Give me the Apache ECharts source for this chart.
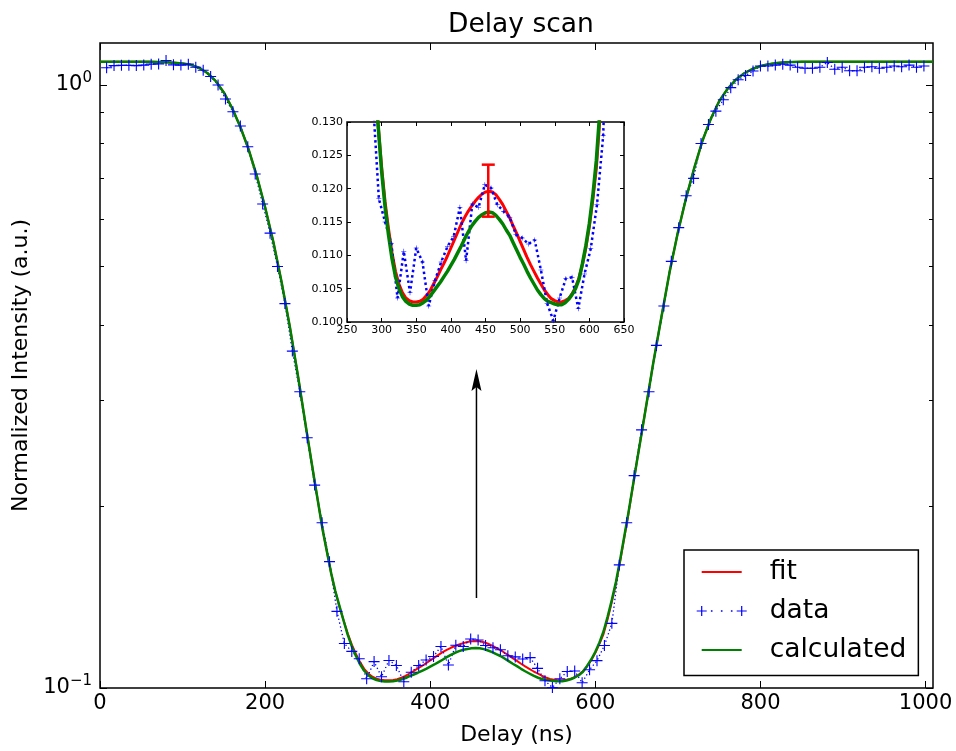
<!DOCTYPE html>
<html>
<head>
<meta charset="utf-8">
<script src="https://cdn.jsdelivr.net/npm/echarts@6/dist/echarts.min.js"></script>
<style>
  html, body { margin: 0; padding: 0; background: #fff; }
  #chart { width: 956px; height: 751px; }
</style>
</head>
<body>
<div id="chart"></div>
<script>
// Delay scan: normalized intensity versus delay on a log scale,
// with a linear zoom of the double-dip region in an inset.

// measured points (ns, a.u.)
const dataDelay = [8,17,26,35,44,53,62,71,80,89,98,107,116,125,134,143,152,161,170,179,188,197,206,215,224,233,242,251,260,269,278,287,296,305,314,323,332,341,350,359,368,377,386,395,404,413,422,431,440,449,458,467,476,485,494,503,512,521,530,539,548,557,566,575,584,593,602,611,620,629,638,647,656,665,674,683,692,701,710,719,728,737,746,755,764,773,782,791,800,809,818,827,836,845,854,863,872,881,890,899,908,917,926,935,944,953,962,971,980,989,998];
const dataIntensity = [1.068,1.077,1.078,1.078,1.077,1.079,1.083,1.084,1.098,1.080,1.079,1.083,1.070,1.058,1.033,1.000,0.948,0.903,0.855,0.790,0.712,0.635,0.568,0.500,0.434,0.362,0.310,0.260,0.217,0.188,0.162,0.134,0.1185,0.1150,0.1118,0.1036,0.1106,0.1044,0.1111,0.1090,0.1024,0.1062,0.1090,0.1113,0.1128,0.1172,0.1092,0.1177,0.1172,0.1206,0.1201,0.1176,0.1166,0.1157,0.1131,0.1126,0.1117,0.1123,0.1078,0.1028,0.1002,0.1036,0.1065,0.1067,0.1020,0.1072,0.1110,0.1176,0.1280,0.160,0.188,0.225,0.268,0.310,0.370,0.430,0.510,0.580,0.655,0.700,0.800,0.860,0.905,0.945,0.990,1.020,1.037,1.055,1.075,1.075,1.079,1.083,1.079,1.070,1.066,1.066,1.070,1.090,1.062,1.070,1.056,1.056,1.070,1.072,1.066,1.070,1.075,1.072,1.079,1.070,1.075];

// model curves (ns, a.u.)
const modelDelay = [0,10,20,30,40,50,60,70,80,90,100,110,120,130,140,150,160,170,180,190,200,210,220,230,240,250,260,270,280,
  285,290,295,300,305,310,315,320,325,330,335,340,345,350,355,360,365,370,375,380,385,390,395,400,405,410,415,420,425,430,435,440,445,450,455,460,465,470,475,480,485,490,495,500,505,510,515,520,525,530,535,540,545,550,555,560,565,570,575,580,585,590,595,600,605,610,615,620,625,
  630,640,650,660,670,680,690,700,710,720,730,740,750,760,770,780,790,800,810,820,830,840,850,860,870,880,890,900,910,920,930,940,950,960,970,980,990,1000,1009];
const fitIntensity = [1.093,1.093,1.093,1.093,1.093,1.093,1.093,1.092,1.091,1.089,1.086,1.080,1.068,1.047,1.016,0.972,0.916,0.852,0.782,0.706,0.627,0.549,0.471,0.397,0.328,0.268,0.220,0.182,0.155,
  0.1445,0.1365,0.1295,0.1232,0.1180,0.1139,0.1104,0.1076,0.1057,0.1044,0.1036,0.1032,0.1030,0.1030,0.1031,0.1034,0.1040,0.1047,0.1057,0.1067,0.1078,0.1088,0.1099,0.1111,0.1123,0.1135,0.1147,0.1157,0.1166,0.1174,0.1181,0.1187,0.1192,0.1195,0.1196,0.1195,0.1191,0.1184,0.1176,0.1166,0.1156,0.1144,0.1133,0.1121,0.1109,0.1097,0.1086,0.1076,0.1066,0.1057,0.1048,0.1041,0.1035,0.1032,0.1030,0.1030,0.1032,0.1035,0.1042,0.1052,0.1066,0.1086,0.1112,0.1144,0.1184,0.1230,0.1303,0.139,0.149,
  0.162,0.194,0.236,0.285,0.345,0.412,0.490,0.570,0.650,0.730,0.810,0.880,0.940,0.985,1.020,1.045,1.063,1.075,1.083,1.088,1.091,1.092,1.093,1.093,1.093,1.093,1.093,1.093,1.093,1.093,1.093,1.093,1.093,1.093,1.093,1.093,1.093,1.093,1.093];
const calcIntensity = [1.093,1.093,1.093,1.093,1.093,1.093,1.093,1.092,1.091,1.089,1.086,1.080,1.068,1.047,1.016,0.972,0.916,0.852,0.782,0.706,0.627,0.549,0.471,0.397,0.328,0.268,0.220,0.182,0.155,
  0.1448,0.1368,0.1294,0.1226,0.1172,0.1130,0.1095,0.1068,0.1050,0.1038,0.1031,0.1027,0.1025,0.1025,0.1026,0.1029,0.1033,0.1039,0.1046,0.1053,0.1060,0.1068,0.1076,0.1085,0.1094,0.1104,0.1114,0.1125,0.1135,0.1144,0.1151,0.1157,0.1161,0.1164,0.1165,0.1164,0.1160,0.1154,0.1147,0.1138,0.1130,0.1119,0.1108,0.1097,0.1087,0.1076,0.1066,0.1057,0.1048,0.1041,0.1035,0.1031,0.1029,0.1027,0.1026,0.1026,0.1029,0.1034,0.1041,0.1050,0.1064,0.1088,0.1115,0.1148,0.1190,0.1242,0.1315,0.140,0.150,
  0.163,0.195,0.236,0.285,0.345,0.412,0.490,0.570,0.650,0.730,0.810,0.880,0.940,0.985,1.020,1.045,1.063,1.075,1.083,1.088,1.091,1.092,1.093,1.093,1.093,1.093,1.093,1.093,1.093,1.093,1.093,1.093,1.093,1.093,1.093,1.093,1.093,1.093,1.093];

// uncertainty of the fitted peak (shown in the inset)
const errDelay = [454];
const errLow = [0.1158];
const errHigh = [0.1236];

// annotation arrow pointing from the dip up to the inset
const arrowDelay = [456];
const arrowFrom = [0.141];
const arrowTo = [0.338];

// tick positions
const xTicks = [0, 200, 400, 600, 800, 1000];
const yMajor = [0.1, 1];
const yMinor = [0.2, 0.3, 0.4, 0.5, 0.6, 0.7, 0.8, 0.9];

const FONT = 'DejaVu Sans';
const pair = (xs, ys) => xs.map((x, i) => [x, ys[i]]);
const plusSymbol = 'path://M0,4.5h10v1h-10zM4.5,0h1v10h-1z';

// legend glyphs (box 50 x 12)
const lineIcon = 'path://M0,0M50,12M5,5.1h40v1.8h-40z';
const dataIcon = 'path://M0,0M50,12M0,5.4h10v1.2h-10zM4.4,1h1.2v10h-1.2zM40,5.4h10v1.2h-10zM44.4,1h1.2v10h-1.2z' +
  'M14.2,5.2h1.6v1.6h-1.6zM24.2,5.2h1.6v1.6h-1.6zM34.2,5.2h1.6v1.6h-1.6z';

const tickStyle = { color: '#000', width: 1 };

function mainX(position, withLabels) {
  return {
    gridIndex: 0, type: 'value', min: 0, max: 1009, position,
    axisLine: { show: false }, splitLine: { show: false },
    axisTick: { inside: true, length: 7, customValues: xTicks, lineStyle: tickStyle },
    axisLabel: withLabels
      ? { customValues: xTicks, margin: 5, fontSize: 21, color: '#000', fontFamily: FONT, formatter: v => String(v) }
      : { show: false }
  };
}
function mainY(position, ticks, len, withLabels) {
  return {
    gridIndex: 0, type: 'log', logBase: 10, min: 0.1, max: 1.174, position,
    axisLine: { show: false }, splitLine: { show: false },
    axisTick: { inside: true, length: len, customValues: ticks, lineStyle: tickStyle },
    axisLabel: withLabels ? {
      customValues: ticks, margin: 8, color: '#000',
      formatter: v => {
        const p = Math.round(Math.log10(v));
        return '{b|10}{s|' + (p < 0 ? '\u2212' + (-p) : p) + '}';
      },
      rich: {
        b: { fontSize: 21, fontFamily: FONT, color: '#000' },
        s: { fontSize: 15, fontFamily: FONT, color: '#000', padding: [0, 0, 14, 0] }
      }
    } : { show: false }
  };
}
function insetX(position, withLabels) {
  return {
    gridIndex: 1, type: 'value', min: 250, max: 650, interval: 50, position,
    axisLine: { show: false }, splitLine: { show: false },
    axisTick: { inside: true, length: 4, lineStyle: tickStyle },
    axisLabel: withLabels ? { margin: 3, fontSize: 11, color: '#000', fontFamily: FONT } : { show: false }
  };
}
function insetY(position, withLabels) {
  return {
    gridIndex: 1, type: 'value', min: 0.1, max: 0.13, interval: 0.005, position,
    axisLine: { show: false }, splitLine: { show: false },
    axisTick: { inside: true, length: 4, lineStyle: tickStyle },
    axisLabel: withLabels ? {
      margin: 4, fontSize: 11, color: '#000', fontFamily: FONT,
      formatter: v => v.toFixed(3)
    } : { show: false }
  };
}

const xMain = mainX('bottom', true);
xMain.name = 'Delay (ns)';
xMain.nameLocation = 'middle';
xMain.nameGap = 36;
xMain.nameTextStyle = { fontSize: 22, fontFamily: FONT, color: '#000' };

const yMain = mainY('left', yMajor, 7, true);
yMain.name = 'Normalized Intensity (a.u.)';
yMain.nameLocation = 'middle';
yMain.nameGap = 65;
yMain.nameTextStyle = { fontSize: 22, fontFamily: FONT, color: '#000' };

const option = {
  animation: false,
  backgroundColor: '#fff',
  title: {
    text: 'Delay scan', left: 443, top: 7,
    textStyle: { fontSize: 26.5, fontWeight: 'normal', fontFamily: FONT, color: '#000' }
  },
  grid: [
    { left: 100, top: 43, width: 833, height: 645, show: true, borderColor: '#000', borderWidth: 1.5, backgroundColor: 'transparent' },
    { left: 347, top: 122, width: 277, height: 200, show: true, borderColor: '#000', borderWidth: 1.5, backgroundColor: '#fff' }
  ],
  xAxis: [xMain, mainX('top', false), insetX('bottom', true), insetX('top', false)],
  yAxis: [
    yMain,
    mainY('left', yMinor, 4, false),
    mainY('right', yMajor, 7, false),
    mainY('right', yMinor, 4, false),
    insetY('left', true),
    insetY('right', false)
  ],
  legend: {
    orient: 'vertical', left: 684, top: 550, padding: [8.5, 12, 12, 12.7],
    itemWidth: 50, itemHeight: 12, itemGap: 12,
    borderColor: '#000', borderWidth: 1.5, borderRadius: 0, backgroundColor: '#fff',
    textStyle: { fontSize: 26.5, fontFamily: FONT, color: '#000', padding: [0, 0, 0, 18] },
    itemStyle: { borderWidth: 0 },
    selectedMode: false, z: 10,
    data: [
      { name: 'fit', icon: lineIcon, itemStyle: { color: '#ff0000', borderWidth: 0 } },
      { name: 'data', icon: dataIcon, itemStyle: { color: '#0000ff', borderWidth: 0 } },
      { name: 'calculated', icon: lineIcon, itemStyle: { color: '#008000', borderWidth: 0 } }
    ]
  },
  series: [
    // main panel
    {
      name: 'fit', type: 'line', xAxisIndex: 0, yAxisIndex: 0, z: 3,
      data: pair(modelDelay, fitIntensity), showSymbol: false,
      lineStyle: { color: '#ff0000', width: 2 }, itemStyle: { color: '#ff0000' }
    },
    {
      name: 'data', type: 'line', xAxisIndex: 0, yAxisIndex: 0, z: 3,
      data: pair(dataDelay, dataIntensity),
      symbol: plusSymbol, symbolSize: 11, showAllSymbol: true,
      lineStyle: { color: '#0000ff', width: 1.3, type: [1.3, 2.6] },
      itemStyle: { color: '#0000ff', borderWidth: 0 }
    },
    {
      name: 'calculated', type: 'line', xAxisIndex: 0, yAxisIndex: 0, z: 3,
      data: pair(modelDelay, calcIntensity), showSymbol: false,
      lineStyle: { color: '#008000', width: 2.5 }, itemStyle: { color: '#008000' }
    },
    // inset panel
    {
      name: 'fit', type: 'line', xAxisIndex: 2, yAxisIndex: 4, z: 3,
      data: pair(modelDelay, fitIntensity), showSymbol: false,
      lineStyle: { color: '#ff0000', width: 3 }, itemStyle: { color: '#ff0000' }
    },
    {
      name: 'data', type: 'line', xAxisIndex: 2, yAxisIndex: 4, z: 3,
      data: pair(dataDelay, dataIntensity),
      symbol: plusSymbol, symbolSize: 5, showAllSymbol: true,
      lineStyle: { color: '#0000ff', width: 2.5, type: [2.5, 3] },
      itemStyle: { color: '#0000ff', borderWidth: 0 }
    },
    {
      name: 'calculated', type: 'line', xAxisIndex: 2, yAxisIndex: 4, z: 3,
      data: pair(modelDelay, calcIntensity), showSymbol: false,
      lineStyle: { color: '#008000', width: 3.5 }, itemStyle: { color: '#008000' }
    },
    // error bar on the fitted peak
    {
      type: 'custom', xAxisIndex: 2, yAxisIndex: 4, z: 4, silent: true,
      data: errDelay.map((x, i) => [x, errLow[i], errHigh[i]]),
      encode: { x: 0, y: [1, 2] },
      renderItem: (params, api) => {
        const lo = api.coord([api.value(0), api.value(1)]);
        const hi = api.coord([api.value(0), api.value(2)]);
        const cap = 6.5;
        const st = { stroke: '#ff0000', lineWidth: 2.5 };
        return {
          type: 'group', children: [
            { type: 'line', shape: { x1: lo[0], y1: lo[1], x2: hi[0], y2: hi[1] }, style: st },
            { type: 'line', shape: { x1: lo[0] - cap, y1: lo[1], x2: lo[0] + cap, y2: lo[1] }, style: st },
            { type: 'line', shape: { x1: hi[0] - cap, y1: hi[1], x2: hi[0] + cap, y2: hi[1] }, style: st }
          ]
        };
      }
    },
    // arrow
    {
      type: 'custom', xAxisIndex: 0, yAxisIndex: 0, z: 4, silent: true,
      data: arrowDelay.map((x, i) => [x, arrowFrom[i], arrowTo[i]]),
      encode: { x: 0, y: [1, 2] },
      renderItem: (params, api) => {
        const a = api.coord([api.value(0), api.value(1)]);
        const b = api.coord([api.value(0), api.value(2)]);
        const headLen = 22, headW = 5, notch = 4;
        return {
          type: 'group', children: [
            { type: 'line', shape: { x1: a[0], y1: a[1], x2: b[0], y2: b[1] + headLen - notch }, style: { stroke: '#000', lineWidth: 1.5 } },
            { type: 'polygon', shape: { points: [[b[0], b[1]], [b[0] - headW, b[1] + headLen], [b[0], b[1] + headLen - notch], [b[0] + headW, b[1] + headLen]] }, style: { fill: '#000' } }
          ]
        };
      }
    }
  ]
};

const chart = echarts.init(document.getElementById('chart'), null, { renderer: 'canvas' });
chart.setOption(option);
</script>
</body>
</html>
